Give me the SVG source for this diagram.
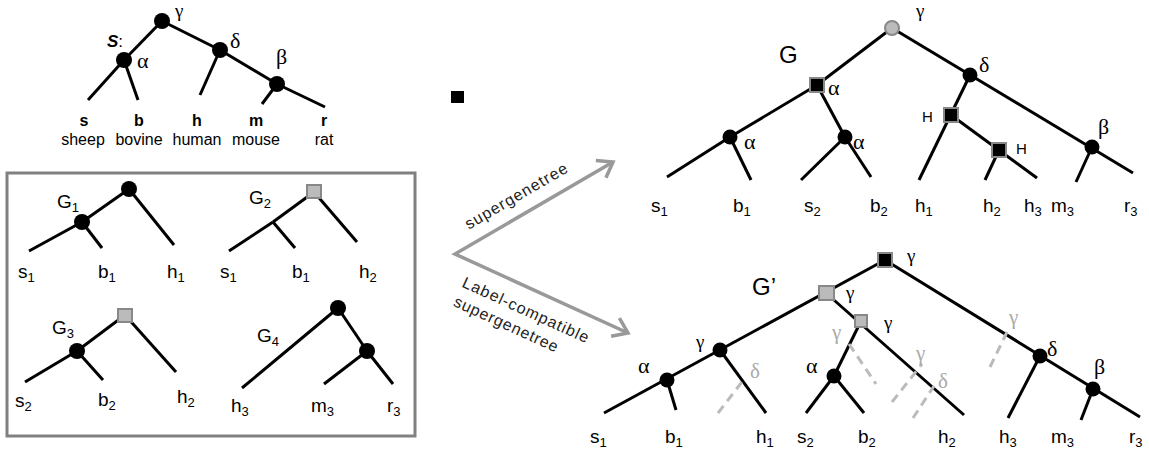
<svg xmlns="http://www.w3.org/2000/svg" width="1149" height="457" viewBox="0 0 1149 457">
<style>
.e{stroke:#000;stroke-width:3;fill:none}
.n{fill:#000}
.gn{fill:#bbb;stroke:#888;stroke-width:2}
.bs{fill:#000;stroke:#888;stroke-width:2}
.d{stroke:#bbb;stroke-width:3;stroke-dasharray:9 6;fill:none}
.t{font-family:"Liberation Sans",Arial,sans-serif;font-size:19px;fill:#000}
.tb{font-family:"Liberation Sans",Arial,sans-serif;font-size:16px;font-weight:bold;fill:#000;text-anchor:middle}
.tn{font-family:"Liberation Sans",Arial,sans-serif;font-size:16px;fill:#000;text-anchor:middle}
.g{font-family:"Liberation Serif","Times New Roman",serif;font-size:22px;fill:#000}
.gy{font-family:"Liberation Serif","Times New Roman",serif;font-size:19px;fill:#000}
.gg{font-family:"Liberation Serif","Times New Roman",serif;font-size:21px;fill:#aaa}
.h{font-family:"Liberation Sans",Arial,sans-serif;font-size:15px;fill:#000}
.big{font-family:"Liberation Sans",Arial,sans-serif;font-size:24px;fill:#000}
.ar{stroke:#999;stroke-width:3.5;fill:none}
.at{font-family:"Liberation Sans",Arial,sans-serif;font-size:16px;fill:#222}
</style>
<defs>
<marker id="chev" markerUnits="userSpaceOnUse" markerWidth="30" markerHeight="30" refX="0" refY="0" viewBox="-20 -15 25 30" orient="auto-start-reverse">
<path d="M-14,-10 L0,0 L-14,10" stroke="#999" stroke-width="3.5" fill="none"/>
</marker>
</defs>
<rect width="1149" height="457" fill="#fff"/>

<!-- Species tree S -->
<g id="S-edges" class="e">
<line x1="162" y1="21" x2="124" y2="60"/>
<line x1="124" y1="60" x2="88" y2="100"/>
<line x1="124" y1="60" x2="138" y2="100"/>
<line x1="162" y1="21" x2="220" y2="50"/>
<line x1="220" y1="50" x2="277" y2="84"/>
<line x1="277" y1="84" x2="325" y2="107"/>
<line x1="220" y1="50" x2="200" y2="95"/>
<line x1="277" y1="84" x2="262" y2="104"/>
</g>
<g id="S-label"><text x="107" y="47" class="t" style="font-size:17px"><tspan font-weight="bold" font-style="italic">S</tspan>:</text></g>
<g id="S-gamma"><circle cx="162" cy="21" r="8" class="n"/><text x="175" y="17" class="gy">γ</text></g>
<g id="S-alpha"><circle cx="124" cy="60" r="8" class="n"/><text x="137" y="68" class="g">α</text></g>
<g id="S-delta"><circle cx="220" cy="50" r="8" class="n"/><text x="230" y="48" class="g">δ</text></g>
<g id="S-beta"><circle cx="277" cy="84" r="8" class="n"/><text x="276" y="64" class="g">β</text></g>
<g id="S-s"><text x="84" y="126" class="tb">s</text><text x="83" y="145" class="tn">sheep</text></g>
<g id="S-b"><text x="139" y="126" class="tb">b</text><text x="139" y="145" class="tn">bovine</text></g>
<g id="S-h"><text x="197" y="126" class="tb">h</text><text x="197" y="145" class="tn">human</text></g>
<g id="S-m"><text x="256" y="126" class="tb">m</text><text x="256" y="145" class="tn">mouse</text></g>
<g id="S-r"><text x="324" y="126" class="tb">r</text><text x="324" y="145" class="tn">rat</text></g>

<g id="marker-square"><rect x="451" y="91" width="13" height="12" fill="#000"/></g>

<!-- Input gene trees box -->
<g id="box"><rect x="7" y="173" width="408" height="263" fill="none" stroke="#808080" stroke-width="3"/></g>
<g id="G1-edges" class="e">
<line x1="129" y1="189" x2="82" y2="222"/>
<line x1="82" y1="222" x2="29" y2="251"/>
<line x1="82" y1="222" x2="102" y2="248"/>
<line x1="129" y1="189" x2="174" y2="245"/>
</g>
<g id="G1-root"><circle cx="129" cy="189" r="8" class="n"/></g>
<g id="G1-inner"><circle cx="82" cy="222" r="8" class="n"/></g>
<g id="G1-label"><text x="57" y="208" class="t">G<tspan font-size="13" dy="4">1</tspan></text></g>
<g id="G1-s1"><text x="18" y="278" class="t">s<tspan font-size="13" dy="4">1</tspan></text></g>
<g id="G1-b1"><text x="98" y="278" class="t">b<tspan font-size="13" dy="4">1</tspan></text></g>
<g id="G1-h1"><text x="167" y="278" class="t">h<tspan font-size="13" dy="4">1</tspan></text></g>

<g id="G2-edges" class="e">
<line x1="314" y1="192" x2="273" y2="222"/>
<line x1="273" y1="222" x2="229" y2="251"/>
<line x1="273" y1="222" x2="295" y2="248"/>
<line x1="314" y1="192" x2="357" y2="242"/>
</g>
<g id="G2-root"><rect x="307" y="185" width="14" height="13" class="gn"/></g>
<g id="G2-label"><text x="249" y="204" class="t">G<tspan font-size="13" dy="4">2</tspan></text></g>
<g id="G2-s1"><text x="220" y="278" class="t">s<tspan font-size="13" dy="4">1</tspan></text></g>
<g id="G2-b1"><text x="292" y="278" class="t">b<tspan font-size="13" dy="4">1</tspan></text></g>
<g id="G2-h2"><text x="359" y="278" class="t">h<tspan font-size="13" dy="4">2</tspan></text></g>

<g id="G3-edges" class="e">
<line x1="125" y1="315" x2="77" y2="351"/>
<line x1="77" y1="351" x2="25" y2="382"/>
<line x1="77" y1="351" x2="103" y2="380"/>
<line x1="125" y1="315" x2="176" y2="372"/>
</g>
<g id="G3-root"><rect x="118" y="309" width="14" height="13" class="gn"/></g>
<g id="G3-inner"><circle cx="77" cy="351" r="8" class="n"/></g>
<g id="G3-label"><text x="52" y="334" class="t">G<tspan font-size="13" dy="4">3</tspan></text></g>
<g id="G3-s2"><text x="15" y="407" class="t">s<tspan font-size="13" dy="4">2</tspan></text></g>
<g id="G3-b2"><text x="98" y="406" class="t">b<tspan font-size="13" dy="4">2</tspan></text></g>
<g id="G3-h2"><text x="177" y="403" class="t">h<tspan font-size="13" dy="4">2</tspan></text></g>

<g id="G4-edges" class="e">
<line x1="338" y1="308" x2="242" y2="388"/>
<line x1="338" y1="308" x2="367" y2="351"/>
<line x1="367" y1="351" x2="324" y2="384"/>
<line x1="367" y1="351" x2="393" y2="384"/>
</g>
<g id="G4-root"><circle cx="338" cy="308" r="8" class="n"/></g>
<g id="G4-inner"><circle cx="367" cy="351" r="8" class="n"/></g>
<g id="G4-label"><text x="257" y="342" class="t">G<tspan font-size="13" dy="4">4</tspan></text></g>
<g id="G4-h3"><text x="231" y="412" class="t">h<tspan font-size="13" dy="4">3</tspan></text></g>
<g id="G4-m3"><text x="311" y="412" class="t">m<tspan font-size="13" dy="4">3</tspan></text></g>
<g id="G4-r3"><text x="387" y="412" class="t">r<tspan font-size="13" dy="4">3</tspan></text></g>

<!-- Arrows -->
<g id="arrows">
<polyline class="ar" points="613,162 455,254 628,333" marker-start="url(#chev)" marker-end="url(#chev)"/>
</g>
<g id="arrow-label-top" transform="translate(455,254) rotate(-30.2)">
<text x="24" y="-14" class="at" textLength="116">supergenetree</text>
</g>
<g id="arrow-label-bottom" transform="translate(455,254) rotate(24.5)">
<text x="19" y="27" class="at" textLength="137">Label-compatible</text>
<text x="19" y="48" class="at" textLength="113">supergenetree</text>
</g>

<!-- Supergenetree G -->
<g id="G-edges" class="e">
<line x1="892" y1="28" x2="817" y2="85"/>
<line x1="817" y1="85" x2="730" y2="137"/>
<line x1="730" y1="137" x2="667" y2="177"/>
<line x1="730" y1="137" x2="751" y2="180"/>
<line x1="817" y1="85" x2="845" y2="137"/>
<line x1="845" y1="137" x2="801" y2="180"/>
<line x1="845" y1="137" x2="871" y2="177"/>
<line x1="892" y1="28" x2="1133" y2="173"/>
<line x1="970" y1="75" x2="919" y2="180"/>
<line x1="951" y1="115" x2="1037" y2="178"/>
<line x1="999" y1="150" x2="985" y2="180"/>
<line x1="1092" y1="147" x2="1076" y2="182"/>
</g>
<g id="G-label"><text x="779" y="63" class="big">G</text></g>
<g id="G-gamma"><circle cx="892" cy="28" r="7" class="gn"/><text x="916" y="17" class="gy">γ</text></g>
<g id="G-alpha-sq"><rect x="810" y="78" width="14" height="14" class="bs"/><text x="828" y="95" class="g">α</text></g>
<g id="G-alpha-l"><circle cx="730" cy="137" r="7.5" class="n"/><text x="744" y="149" class="g">α</text></g>
<g id="G-alpha-m"><circle cx="845" cy="137" r="7.5" class="n"/><text x="853" y="149" class="g">α</text></g>
<g id="G-delta"><circle cx="970" cy="75" r="7.5" class="n"/><text x="979" y="72" class="g">δ</text></g>
<g id="G-H1"><rect x="944" y="108" width="14" height="14" class="bs"/><text x="922" y="122" class="h">H</text></g>
<g id="G-H2"><rect x="992" y="143" width="14" height="14" class="bs"/><text x="1016" y="154" class="h">H</text></g>
<g id="G-beta"><circle cx="1092" cy="147" r="7.5" class="n"/><text x="1098" y="134" class="g">β</text></g>
<g id="G-s1"><text x="651" y="212" class="t">s<tspan font-size="13" dy="4">1</tspan></text></g>
<g id="G-b1"><text x="733" y="212" class="t">b<tspan font-size="13" dy="4">1</tspan></text></g>
<g id="G-s2"><text x="804" y="212" class="t">s<tspan font-size="13" dy="4">2</tspan></text></g>
<g id="G-b2"><text x="870" y="212" class="t">b<tspan font-size="13" dy="4">2</tspan></text></g>
<g id="G-h1"><text x="915" y="212" class="t">h<tspan font-size="13" dy="4">1</tspan></text></g>
<g id="G-h2"><text x="983" y="212" class="t">h<tspan font-size="13" dy="4">2</tspan></text></g>
<g id="G-h3"><text x="1024" y="212" class="t">h<tspan font-size="13" dy="4">3</tspan></text></g>
<g id="G-m3"><text x="1051" y="212" class="t">m<tspan font-size="13" dy="4">3</tspan></text></g>
<g id="G-r3"><text x="1124" y="212" class="t">r<tspan font-size="13" dy="4">3</tspan></text></g>

<!-- Label-compatible supergenetree G' -->
<g id="Gp-edges" class="e">
<line x1="885" y1="260" x2="604" y2="413"/>
<line x1="667" y1="380" x2="676" y2="410"/>
<line x1="720" y1="350" x2="766" y2="413"/>
<line x1="826" y1="293" x2="964" y2="415"/>
<line x1="861" y1="321" x2="834" y2="376"/>
<line x1="834" y1="376" x2="806" y2="413"/>
<line x1="834" y1="376" x2="864" y2="413"/>
<line x1="885" y1="260" x2="1140" y2="417"/>
<line x1="1040" y1="356" x2="1008" y2="418"/>
<line x1="1093" y1="389" x2="1081" y2="420"/>
</g>
<g id="Gp-dashes">
<line x1="718" y1="413" x2="745" y2="378" class="d"/>
<line x1="849" y1="344" x2="876" y2="384" class="d"/>
<line x1="892" y1="402" x2="922" y2="364" class="d"/>
<line x1="913" y1="418" x2="934" y2="386" class="d"/>
<line x1="990" y1="367" x2="1009" y2="328" class="d"/>
<text x="750" y="378" class="gg">δ</text>
<text x="832" y="339" class="gg">γ</text>
<text x="916" y="360" class="gg">γ</text>
<text x="938" y="388" class="gg">δ</text>
<text x="1009" y="324" class="gg">γ</text>
</g>
<g id="Gp-label"><text x="752" y="295" class="big">G’</text></g>
<g id="Gp-root"><rect x="878" y="253" width="14" height="14" class="bs"/><text x="907" y="262" class="gy">γ</text></g>
<g id="Gp-sq2"><rect x="819" y="286" width="15" height="14" class="gn"/><text x="846" y="299" class="gy">γ</text></g>
<g id="Gp-sq3"><rect x="855" y="315" width="12" height="12" class="gn"/><text x="884" y="329" class="gy">γ</text></g>
<g id="Gp-gamma"><circle cx="720" cy="350" r="7.5" class="n"/><text x="696" y="348" class="gy">γ</text></g>
<g id="Gp-alpha1"><circle cx="667" cy="380" r="7.5" class="n"/><text x="638" y="373" class="g">α</text></g>
<g id="Gp-alpha2"><circle cx="834" cy="376" r="7.5" class="n"/><text x="806" y="373" class="g">α</text></g>
<g id="Gp-delta"><circle cx="1040" cy="356" r="7.5" class="n"/><text x="1047" y="356" class="g">δ</text></g>
<g id="Gp-beta"><circle cx="1093" cy="389" r="7.5" class="n"/><text x="1094" y="374" class="g">β</text></g>
<g id="Gp-s1"><text x="590" y="443" class="t">s<tspan font-size="13" dy="4">1</tspan></text></g>
<g id="Gp-b1"><text x="665" y="443" class="t">b<tspan font-size="13" dy="4">1</tspan></text></g>
<g id="Gp-h1"><text x="756" y="443" class="t">h<tspan font-size="13" dy="4">1</tspan></text></g>
<g id="Gp-s2"><text x="797" y="443" class="t">s<tspan font-size="13" dy="4">2</tspan></text></g>
<g id="Gp-b2"><text x="858" y="443" class="t">b<tspan font-size="13" dy="4">2</tspan></text></g>
<g id="Gp-h2"><text x="938" y="443" class="t">h<tspan font-size="13" dy="4">2</tspan></text></g>
<g id="Gp-h3"><text x="999" y="443" class="t">h<tspan font-size="13" dy="4">3</tspan></text></g>
<g id="Gp-m3"><text x="1051" y="443" class="t">m<tspan font-size="13" dy="4">3</tspan></text></g>
<g id="Gp-r3"><text x="1129" y="443" class="t">r<tspan font-size="13" dy="4">3</tspan></text></g>
</svg>
